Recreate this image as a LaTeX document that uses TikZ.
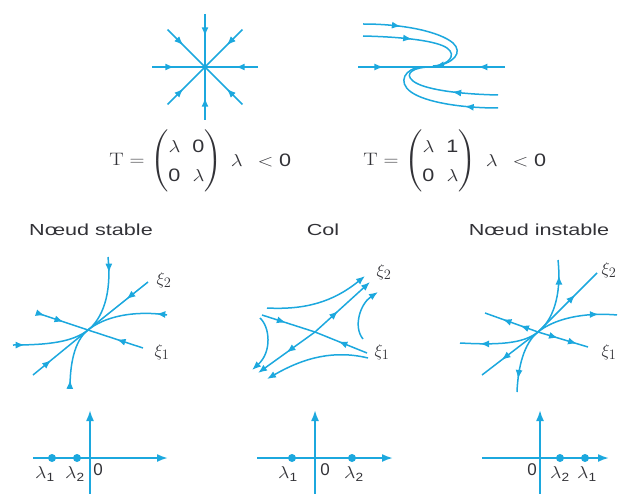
\documentclass[tikz,border=0pt]{standalone}
\usepackage{amsmath}
\usepackage{fontspec}
\setsansfont{Liberation Sans}
\usetikzlibrary{arrows.meta,decorations.markings}

\definecolor{bleu}{RGB}{28,168,222}
\definecolor{texte}{RGB}{50,50,55}
\newcommand{\etire}[1]{\scalebox{1.35}[1]{#1}}
\newcommand{\vp}[1]{\scalebox{1.15}[1]{$\lambda_{\text{\textsf{#1}}}$}}

\tikzset{
  >={Latex[length=9pt,width=7pt]},
  traj/.style={bleu, line width=1.5pt},
  fl/.style={postaction={decorate,decoration={markings,mark=at position #1 with {\arrow{>}}}}},
  rfl/.style={postaction={decorate,decoration={markings,mark=at position #1 with {\arrowreversed{>}}}}},
  axe/.style={bleu, line width=1.9pt, -{Latex[length=11pt,width=8pt]}},
  point/.style={circle, fill=bleu, inner sep=0pt, minimum size=8pt},
  titre/.style={texte, font=\sffamily\fontsize{16}{19}\selectfont},
  formule/.style={texte, font=\fontsize{18}{22}\selectfont},
  xi/.style={texte, font=\fontsize{19}{22}\selectfont},
  val/.style={texte, font=\fontsize{17}{20}\selectfont}
}

\begin{document}
\begin{tikzpicture}[x=1pt, y=-1pt]
\useasboundingbox (0,0) rectangle (620,494);

% noeud propre (en haut a gauche)
\begin{scope}[shift={(205,67)}]
  \coordinate (e0) at (0,0);
  \foreach \a in {0,45,...,315}
    \draw[traj, fl=0.42] (\a:53) -- (e0);
\end{scope}

% noeud degenere (en haut a droite)
\begin{scope}[shift={(435,67)}]
  \coordinate (d0) at (0,0);
  \draw[traj, fl=0.33] (-77,0) -- (d0);
  \draw[traj, fl=0.38] (70,0) -- (d0);
  \draw[traj, fl=0.28, fl=0.97] (-72,-43) .. controls (-30,-43) and (5,-35) .. (18,-24) .. controls (28,-15) and (20,-3) .. (-4,0);
  \draw[traj, fl=0.42] (-72,-31) .. controls (-30,-30) and (2,-26) .. (12,-19) .. controls (22,-12) and (14,-2) .. (-2,-1);
  \draw[traj, fl=0.39] (63,28) .. controls (20,27) and (-12,22) .. (-22,14) .. controls (-32,6) and (-20,0) .. (-5,0);
  \draw[traj, fl=0.26] (63,41) .. controls (25,41) and (-10,35) .. (-24,25) .. controls (-38,15) and (-30,1) .. (-13,0);
\end{scope}

\node[formule] (m1) at (166,161) {\scalebox{1.2}[1]{$\mathrm{T}=\renewcommand{\arraystretch}{1.3}\begin{pmatrix}\lambda & \textsf{0}\\ \textsf{0} & \lambda\end{pmatrix}$}};
\node[formule] (c1) at (261,160) {\scalebox{1.2}[1]{$\lambda\;\,<\textsf{0}$}};
\node[formule] (m2) at (420,161) {\scalebox{1.2}[1]{$\mathrm{T}=\renewcommand{\arraystretch}{1.3}\begin{pmatrix}\lambda & \textsf{1}\\ \textsf{0} & \lambda\end{pmatrix}$}};
\node[formule] (c2) at (516,160) {\scalebox{1.2}[1]{$\lambda\;\,<\textsf{0}$}};

\node[titre] (t1) at (91,230) {\etire{Nœud stable}};
\node[titre] (t2) at (323,230) {\etire{Col}};
\node[titre] (t3) at (539,230) {\etire{Nœud instable}};

% noeud stable
\begin{scope}[shift={(88,330)}]
  \coordinate (s0) at (0,0);
  \draw[traj, fl=0.36] (60,-48) -- (s0);
  \draw[traj, fl=0.33] (-55,45) -- (s0);
  \draw[traj, fl=0.15, fl=0.52] (-51,-17) -- (s0);
  \draw[traj, fl=0.48] (55,18) -- (s0);
  \draw[traj, fl=0.2] (20,-73) .. controls (24,-35) and (14,-11) .. (s0);
  \draw[traj, fl=0.13] (79,-15) .. controls (45,-20) and (16,-13) .. (s0);
  \draw[traj, fl=0.15] (-75,15) .. controls (-40,15) and (-15,12) .. (s0);
  \draw[traj, fl=0.13] (-18,58) .. controls (-18,35) and (-14,11) .. (s0);
  \node[xi] (s2) at (76,-50) {$\xi_2$};
  \node[xi] (s1) at (74,22) {$\xi_1$};
\end{scope}

% col
\begin{scope}[shift={(315,332)}]
  \coordinate (c0) at (0,0);
  \draw[traj, ->, fl=0.42] (c0) -- (55,-50);
  \draw[traj, ->, fl=0.5] (c0) -- (-57,41);
  \draw[traj, fl=0.45] (-53,-17) -- (c0);
  \draw[traj, fl=0.55] (52,21) -- (c0);
  \draw[traj, ->] (-48,-24) .. controls (-10,-22) and (18,-30) .. (50,-56);
  \draw[traj, ->] (48,7) .. controls (38,-5) and (45,-28) .. (63,-40);
  \draw[traj, ->] (-55,-14) .. controls (-45,-5) and (-43,20) .. (-63,38);
  \draw[traj, ->] (53,26) .. controls (20,18) and (-10,25) .. (-48,47);
  \node[xi] (k2) at (69,-60) {$\xi_2$};
  \node[xi] (k1) at (67,20) {$\xi_1$};
\end{scope}

% noeud instable
\begin{scope}[shift={(538,332)}]
  \coordinate (u0) at (0,0);
  \draw[traj, rfl=0.37] (59,-59) -- (u0);
  \draw[traj, rfl=0.35] (-56,43) -- (u0);
  \draw[traj, rfl=0.33, rfl=0.66] (-53,-19) -- (u0);
  \draw[traj, rfl=0.22, rfl=0.6] (50,15) -- (u0);
  \draw[traj, rfl=0.2] (20,-72) .. controls (24,-35) and (14,-11) .. (u0);
  \draw[traj, rfl=0.22] (79,-17) .. controls (45,-20) and (16,-13) .. (u0);
  \draw[traj, rfl=0.25] (-78,11) .. controls (-40,13) and (-15,12) .. (u0);
  \draw[traj, rfl=0.2] (-21,60) .. controls (-20,35) and (-14,11) .. (u0);
  \node[xi] (u2) at (71,-62) {$\xi_2$};
  \node[xi] (u1) at (71,20) {$\xi_1$};
\end{scope}

% valeurs propres
\begin{scope}[shift={(90,458)}]
  \draw[axe] (-57,0) -- (78,0);
  \draw[axe] (0,36) -- (0,-48);
  \node[point] (a1) at (-38,0) {};
  \node[point] (a2) at (-13,0) {};
  \node[val] (la1) at (-45,16) {\vp{1}};
  \node[val] (la2) at (-15,16) {\vp{2}};
  \node[val] (za) at (8,12) {\textsf{0}};
\end{scope}
\begin{scope}[shift={(315,458)}]
  \draw[axe] (-58,0) -- (78,0);
  \draw[axe] (0,36) -- (0,-48);
  \node[point] (b1) at (-23,0) {};
  \node[point] (b2) at (37,0) {};
  \node[val] (lb1) at (-27,16) {\vp{1}};
  \node[val] (zb) at (10,12) {\textsf{0}};
  \node[val] (lb2) at (39,16) {\vp{2}};
\end{scope}
\begin{scope}[shift={(540,458)}]
  \draw[axe] (-58,0) -- (69,0);
  \draw[axe] (0,36) -- (0,-48);
  \node[point] (d1) at (45,0) {};
  \node[point] (d2) at (20,0) {};
  \node[val] (zd) at (-8,12) {\textsf{0}};
  \node[val] (ld2) at (20,16) {\vp{2}};
  \node[val] (ld1) at (47,16) {\vp{1}};
\end{scope}
\end{tikzpicture}
\end{document}
